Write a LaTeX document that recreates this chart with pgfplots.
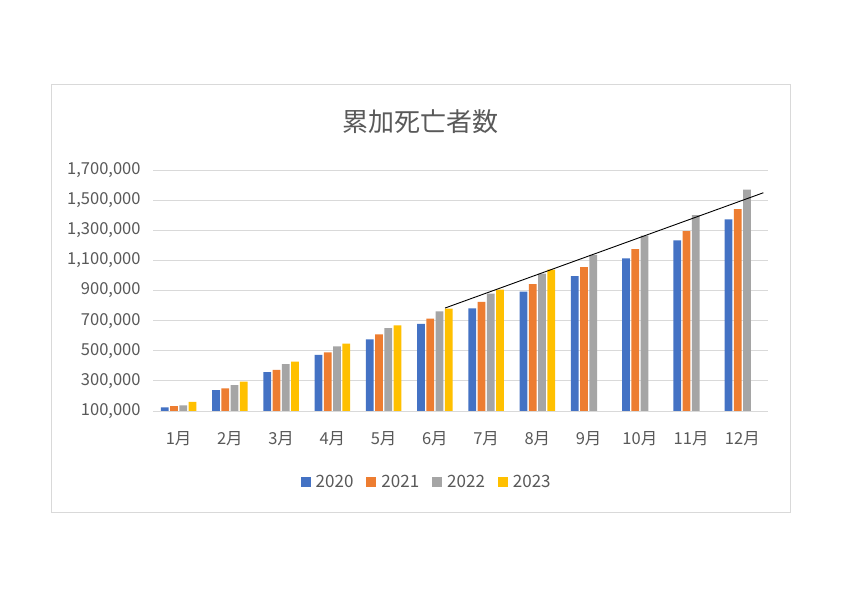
\documentclass[border=0pt]{standalone}
\usepackage{fontspec}
\setmainfont{Noto Sans CJK JP}
\usepackage{pgfplots}
\pgfplotsset{compat=1.18}
\definecolor{cBlue}{HTML}{4472C4}
\definecolor{cOrange}{HTML}{ED7D31}
\definecolor{cGray}{HTML}{A5A5A5}
\definecolor{cYellow}{HTML}{FFC000}
\definecolor{txt}{HTML}{595959}
\definecolor{grd}{HTML}{D9D9D9}
\begin{document}
\begin{tikzpicture}
\path[use as bounding box] (0,0) rectangle (842bp,596bp);
\fill[white] (0,0) rectangle (842bp,596bp);
\draw[grd, line width=0.8bp] (51bp,84bp) rectangle (790bp,512bp);
\node[text=txt, font=\fontsize{26bp}{30bp}\selectfont, inner sep=0pt] at (420.8bp,474.3bp) {累加死亡者数};
\begin{axis}[
  at={(153bp,185bp)}, anchor=south west,
  scale only axis, width=615bp, height=241bp,
  xmin=-0.5, xmax=11.5, ymin=100000, ymax=1700000,
  scaled y ticks=false,
  ybar, bar width=0.15,
  xtick={0,...,11},
  xticklabels={1月,2月,3月,4月,5月,6月,7月,8月,9月,10月,11月,12月},
  ytick={100000,300000,500000,700000,900000,1100000,1300000,1500000,1700000},
  yticklabels={{100,000},{300,000},{500,000},{700,000},{900,000},{1,100,000},{1,300,000},{1,500,000},{1,700,000}},
  major tick length=0pt,
  axis x line*=bottom, axis y line*=left,
  x axis line style={grd, line width=0.8bp, -},
  y axis line style={draw=none},
  ymajorgrids, grid style={grd, line width=0.8bp},
  tick label style={text=txt, font=\fontsize{16.5bp}{19bp}\selectfont},
  xticklabel style={anchor=center, yshift=-28bp},
  yticklabel style={anchor=east, xshift=-9bp},
  legend style={at={(0.4434,-0.293)}, anchor=center, draw=none, fill=none,
    legend columns=-1, font=\fontsize{17bp}{20bp}\selectfont, text=txt,
    nodes={inner sep=0pt},
    /tikz/every odd column/.append style={column sep=5bp},
    /tikz/every even column/.append style={column sep=13bp}},
  legend image code/.code={\fill[#1] (0bp,-5bp) rectangle (10bp,5bp);},
]
\addplot[fill=cBlue, draw=none, bar shift=-0.27] coordinates {
(0,124600) (1,239000) (2,358900) (3,471800) (4,576000) (5,677600)
(6,781800) (7,892000) (8,996000) (9,1113800) (10,1233000) (11,1372755)};
\addplot[fill=cOrange, draw=none, bar shift=-0.09] coordinates {
(0,133000) (1,250700) (2,372200) (3,489700) (4,609000) (5,712800)
(6,823700) (7,943000) (8,1056000) (9,1175500) (10,1295000) (11,1439856)};
\addplot[fill=cGray, draw=none, bar shift=0.09] coordinates {
(0,137800) (1,272600) (2,412000) (3,529500) (4,651000) (5,762000)
(6,878800) (7,1011500) (8,1135700) (9,1263800) (10,1401000) (11,1569050)};
\addplot[fill=cYellow, draw=none, bar shift=0.27] coordinates {
(0,159800) (1,294500) (2,427300) (3,546800) (4,669000) (5,779000)
(6,905300) (7,1038000)};
\legend{2020,2021,2022,2023}
\addplot[black, line width=0.9bp, sharp plot, forget plot] coordinates {(5.2,783800) (11.41,1549000)};
\end{axis}
\end{tikzpicture}
\end{document}
